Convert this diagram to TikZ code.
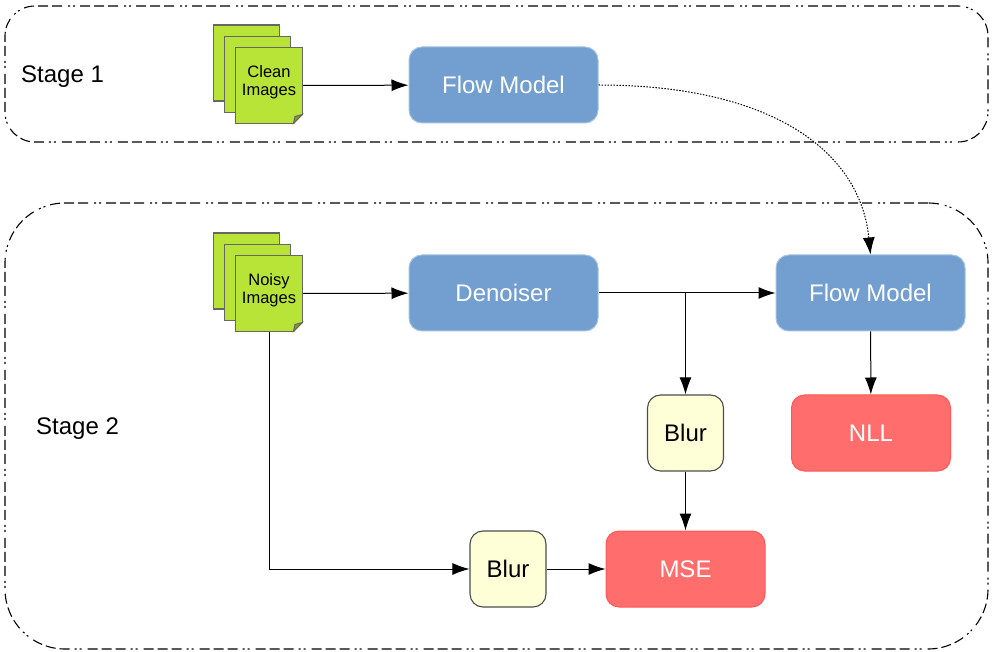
\documentclass[tikz,border=0pt]{standalone}
\usepackage{fontspec}
\setmainfont{Liberation Sans}
\usetikzlibrary{arrows.meta}
\definecolor{sheetgreen}{HTML}{B8E337}
\definecolor{modelblue}{HTML}{729FCF}
\definecolor{lossred}{HTML}{FF6D6D}
\definecolor{blurcream}{HTML}{FFFFD7}
\newcommand{\sheettext}[1]{\raisebox{-1.8pt}[0pt][0pt]{\begin{tabular}{@{}c@{}}#1\end{tabular}}}
\tikzset{
  stage/.style={draw=black, line width=1.1pt, dash pattern=on 10pt off 4pt on 10pt off 4pt on 10pt off 5pt on 2pt off 3pt on 2pt off 6pt, inner sep=0pt},
  sheet/.style={draw=black!60, line width=1.1pt, fill=sheetgreen, minimum width=66.5pt, minimum height=76pt, inner sep=0pt, font=\fontsize{16.5}{18}\selectfont},
  model/.style={draw=modelblue!65!white, line width=1pt, fill=modelblue, rounded corners=13pt, text=white, minimum width=189pt, minimum height=76pt, font=\fontsize{24}{28}\selectfont},
  loss/.style={draw=lossred!80!red, line width=1pt, fill=lossred, rounded corners=13pt, text=white, minimum width=159pt, minimum height=76pt, font=\fontsize{24}{28}\selectfont},
  blur/.style={draw=black!70, line width=1.1pt, fill=blurcream, rounded corners=13pt, minimum width=76pt, minimum height=76pt, font=\fontsize{24}{28}\selectfont},
  label/.style={anchor=west, inner sep=0pt, font=\fontsize{24}{28}\selectfont},
  link/.style={line width=1pt, -{Latex[length=17pt,width=12pt]}},
  fold/.style={draw=black!60, line width=1pt, fill=sheetgreen!70!black},
}
\begin{document}
\begin{tikzpicture}[x=1pt, y=-1pt]
  \useasboundingbox (0,0) rectangle (994,652);
  % stages
  \node[stage, minimum width=983pt, minimum height=136pt, rounded corners=30pt] (stageone) at (496.5,74) {};
  \node[stage, minimum width=983pt, minimum height=446pt, rounded corners=60pt] (stagetwo) at (496.5,426) {};
  \node[label] (labelone) at (21,76.5) {Stage 1};
  \node[label] (labeltwo) at (36,428.5) {Stage 2};
  % clean images
  \node[sheet] (cleanc) at (246.5,63) {};
  \node[sheet] (cleanb) at (257.5,74.5) {};
  \node[sheet] (clean) at (269,85.5) {\sheettext{Clean\\Images}};
  \fill[white] (294,124.1) -- (302.9,124.1) -- (302.9,115) -- cycle;
  \draw[fold] (293.5,123.5) -- (302.3,114.5) -- (295,116.5) -- cycle;
  % noisy images
  \node[sheet] (noisyc) at (246.5,271) {};
  \node[sheet] (noisyb) at (257.5,282.5) {};
  \node[sheet] (noisy) at (269,293.5) {\sheettext{Noisy\\Images}};
  \fill[white] (294,332.1) -- (302.9,332.1) -- (302.9,323) -- cycle;
  \draw[fold] (293.5,331.5) -- (302.3,322.5) -- (295,324.5) -- cycle;
  % boxes
  \node[model] (flowa) at (503.5,85) {Flow Model};
  \node[model] (denoiser) at (503.5,293) {Denoiser};
  \node[model] (flowb) at (870.5,293) {Flow Model};
  \node[blur] (blura) at (685.5,433) {Blur};
  \node[blur] (blurb) at (508,569) {Blur};
  \node[loss] (mse) at (685.5,569) {MSE};
  \node[loss] (nll) at (871,433) {NLL};
  \coordinate (split) at (blura.north |- denoiser.east);
  % connectors
  \draw[link] (clean) -- (flowa);
  \draw[link] (noisy) -- (denoiser);
  \draw[link] (denoiser) -- (flowb);
  \draw[link] (split) -- (blura);
  \draw[link] (blura) -- (mse);
  \draw[link] (flowb) -- (nll);
  \draw[link] (noisy.south) |- (blurb.west);
  \draw[link] (blurb) -- (mse);
  \draw[line width=1pt, dash pattern=on 1.5pt off 1.5pt, -{Latex[length=17pt,width=12pt]}] (flowa.east) .. controls (770,85) and (860,150) .. (flowb.north);
\end{tikzpicture}
\end{document}
